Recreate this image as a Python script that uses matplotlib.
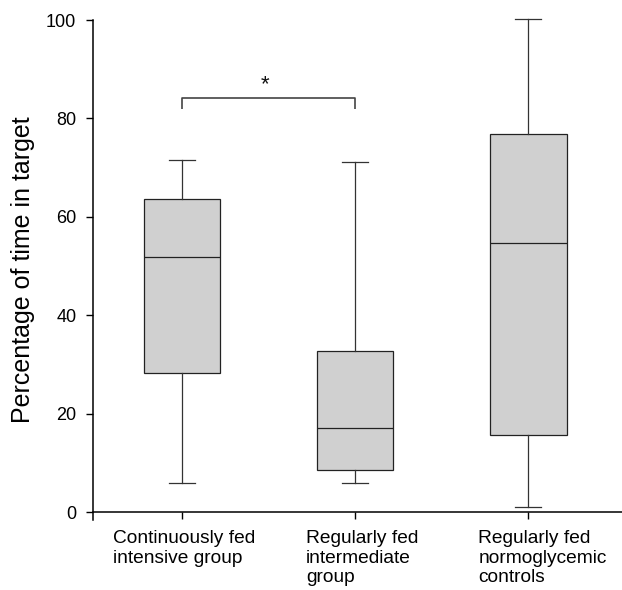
import matplotlib
matplotlib.use("Agg")
import matplotlib.pyplot as plt
from matplotlib.transforms import ScaledTranslation

plt.rcParams['font.family'] = ['Liberation Sans', 'DejaVu Sans']

categories = ["Continuously fed\nintensive group",
              "Regularly fed\nintermediate\ngroup",
              "Regularly fed\nnormoglycemic\ncontrols"]
whisker_low = [6.0, 6.0, 1.0]
q1 = [28.3, 8.5, 15.6]
median = [51.8, 17.2, 54.6]
q3 = [63.6, 32.7, 76.8]
whisker_high = [71.5, 71.2, 100.3]
y_ticks = [0, 20, 40, 60, 80, 100]
bracket_y = 84.2
bracket_drop = 82.0
star_y = 86.8

fig = plt.figure(figsize=(6.22, 5.90), dpi=100)
ax = fig.add_axes([0.1495, 0.1186, 0.8505, 0.8475])

stats = []
for i in range(len(categories)):
    stats.append(dict(whislo=whisker_low[i], q1=q1[i], med=median[i],
                      q3=q3[i], whishi=whisker_high[i], fliers=[]))
positions = [1, 2, 3]
art = ax.bxp(stats, positions=positions, widths=0.44, patch_artist=True,
             showfliers=False,
             boxprops=dict(facecolor='#d0d0d0', edgecolor='#222222', linewidth=0.9),
             medianprops=dict(color='#222222', linewidth=0.9),
             whiskerprops=dict(color='#333333', linewidth=0.9),
             capprops=dict(color='#333333', linewidth=0.9),
             capwidths=0.15)
for k in art:
    for a in art[k]:
        a.set_clip_on(False)

# significance bracket
ax.plot([1, 1, 2, 2], [bracket_drop, bracket_y, bracket_y, bracket_drop],
        color='#444444', linewidth=1.2, solid_capstyle='butt', clip_on=False)
ax.text(1.48, star_y, '*', ha='center', va='center', fontsize=16, color='#111111')

ax.set_xlim(0.486, 3.54)
ax.set_ylim(-1.6, 100)
ax.tick_params(axis='y', labelsize=13, length=5, width=1.0, pad=7, direction='out')
ax.tick_params(axis='x', length=5, width=1.0, direction='out')
ax.set_yticks(y_ticks)
ax.set_xticks(positions)
ax.set_xticklabels([''] * len(positions))

# left-aligned multi-line category labels under the ticks
label_dx_px = [-69, -49, -50]
for pos, lab, dx in zip(positions, categories, label_dx_px):
    tr = ax.get_xaxis_transform() + ScaledTranslation(dx / 100, -10 / 100, fig.dpi_scale_trans)
    ax.text(pos, 0, lab, transform=tr, ha='left', va='top', fontsize=13.8,
            linespacing=1.2, multialignment='left')

ax.set_ylabel('Percentage of time in target', fontsize=18, labelpad=8)

ax.spines['top'].set_visible(False)
ax.spines['right'].set_visible(False)
ax.spines['bottom'].set_position(('data', 0))
ax.spines['left'].set_linewidth(1.1)
ax.spines['bottom'].set_linewidth(1.1)

fig.savefig('out.png', dpi=100)
